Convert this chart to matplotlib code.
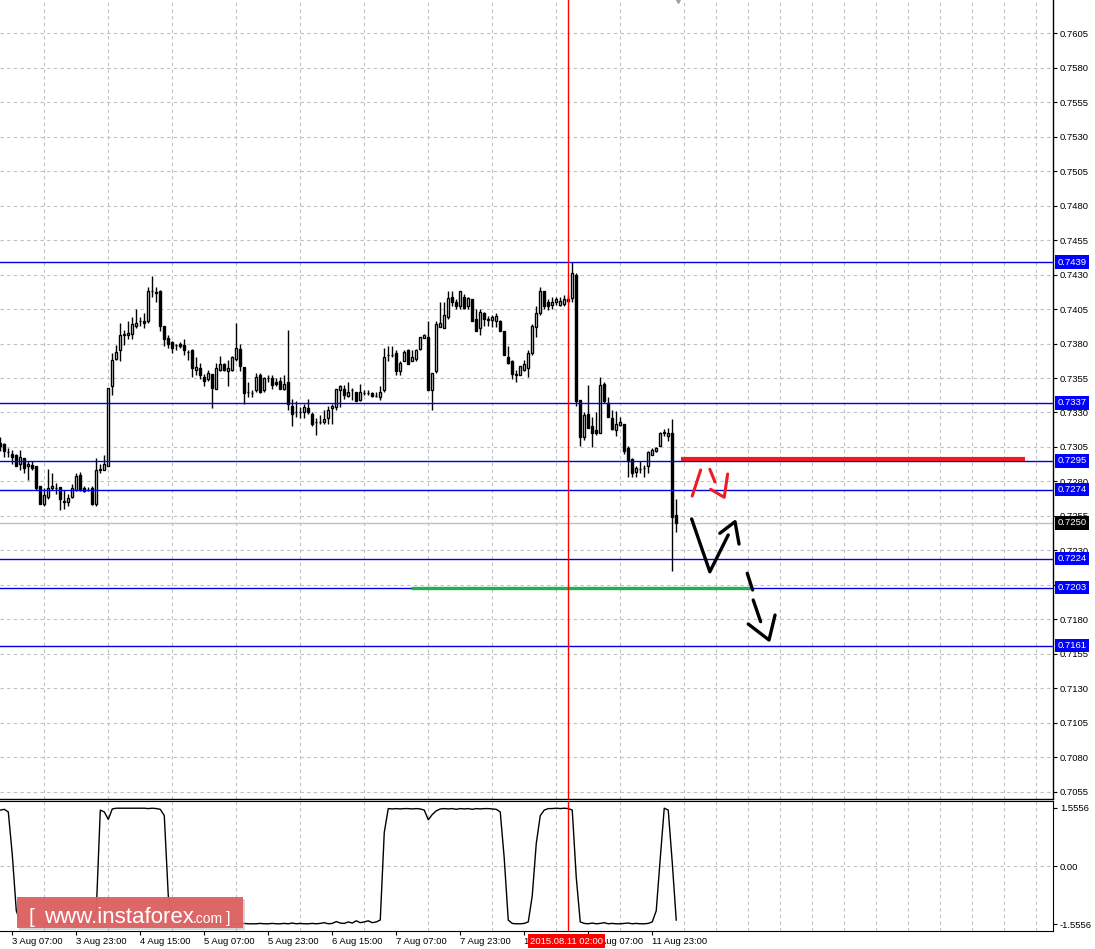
import matplotlib
matplotlib.use("Agg")
import matplotlib.pyplot as plt
from matplotlib.patches import Rectangle
import numpy as np

plt.rcParams['font.family'] = ['Liberation Sans', 'DejaVu Sans']

# ---------------- data ----------------
opens = [
.7308, .7307, .7301, .7300, .7299, .7293, .7297, .7291, .7292, .7291,
.7277, .7264, .7269, .7275, .7275, .7276, .7266, .7265, .7269, .7274,
.7285, .7275, .7274, .7275, .7264, .7288, .7288, .7291, .7349, .7369,
.7375, .7386, .7386, .7387, .7393, .7396, .7396, .7396, .7418, .7417,
.7418, .7393, .7384, .7381, .7379, .7380, .7379, .7374, .7375, .7361,
.7362, .7356, .7354, .7358, .7347, .7361, .7365, .7360, .7361, .7369,
.7376, .7363, .7345, .7344, .7346, .7357, .7346, .7355, .7355, .7352,
.7353, .7347, .7352, .7335, .7330, .7330, .7330, .7333, .7329, .7323,
.7323, .7323, .7326, .7333, .7334, .7346, .7347, .7342, .7346, .7345,
.7339, .7344, .7344, .7344, .7342, .7341, .7346, .7372, .7372, .7373,
.7360, .7367, .7375, .7367, .7369, .7376, .7384, .7385, .7346, .7360,
.7392, .7391, .7399, .7414, .7410, .7407, .7414, .7407, .7412, .7398,
.7391, .7402, .7398, .7397, .7396, .7396, .7389, .7370, .7367, .7358,
.7357, .7361, .7362, .7373, .7392, .7402, .7418, .7410, .7408, .7410,
.7408, .7409, .7412, .7413, .7430, .7339, .7312, .7329, .7320, .7317,
.7315, .7351, .7337, .7326, .7317, .7321, .7322, .7304, .7296, .7287,
.7289, .7290, .7291, .7299, .7302, .7306, .7315, .7313, .7315, .7256,
]
highs = [
.7312, .7308, .7304, .7303, .7300, .7303, .7297, .7295, .7295, .7291,
.7277, .7275, .7289, .7286, .7279, .7276, .7274, .7271, .7278, .7286,
.7287, .7277, .7276, .7277, .7297, .7293, .7299, .7348, .7373, .7379,
.7395, .7390, .7396, .7399, .7405, .7399, .7402, .7421, .7429, .7421,
.7419, .7393, .7386, .7382, .7380, .7381, .7383, .7375, .7376, .7370,
.7366, .7358, .7361, .7358, .7366, .7371, .7366, .7368, .7371, .7395,
.7380, .7363, .7352, .7346, .7359, .7359, .7356, .7357, .7357, .7355,
.7356, .7357, .7390, .7340, .7338, .7334, .7336, .7340, .7330, .7326,
.7328, .7332, .7335, .7336, .7347, .7350, .7350, .7352, .7348, .7345,
.7351, .7346, .7346, .7345, .7345, .7349, .7377, .7378, .7378, .7375,
.7367, .7375, .7376, .7375, .7376, .7385, .7387, .7396, .7359, .7396,
.7410, .7410, .7418, .7418, .7412, .7418, .7416, .7414, .7412, .7405,
.7405, .7403, .7400, .7401, .7402, .7397, .7389, .7378, .7368, .7361,
.7364, .7368, .7375, .7394, .7407, .7421, .7418, .7412, .7414, .7414,
.7414, .7415, .7415, .7439, .7431, .7339, .7330, .7350, .7327, .7330,
.7356, .7352, .7341, .7332, .7331, .7327, .7322, .7306, .7297, .7291,
.7295, .7292, .7302, .7304, .7305, .7316, .7318, .7319, .7325, .7267,
]
lows = [
.7302, .7298, .7298, .7293, .7291, .7288, .7286, .7281, .7288, .7274,
.7264, .7262, .7267, .7274, .7271, .7259, .7260, .7262, .7268, .7273,
.7273, .7272, .7273, .7263, .7262, .7286, .7288, .7291, .7343, .7368,
.7367, .7379, .7383, .7383, .7391, .7393, .7391, .7395, .7414, .7410,
.7389, .7378, .7377, .7373, .7375, .7377, .7372, .7368, .7356, .7357,
.7354, .7349, .7353, .7333, .7347, .7360, .7360, .7349, .7360, .7367,
.7360, .7336, .7341, .7341, .7345, .7344, .7345, .7352, .7347, .7349,
.7347, .7346, .7332, .7320, .7327, .7326, .7326, .7329, .7320, .7314,
.7322, .7322, .7322, .7322, .7332, .7334, .7340, .7341, .7339, .7338,
.7338, .7343, .7343, .7341, .7341, .7339, .7345, .7367, .7370, .7357,
.7357, .7367, .7365, .7367, .7367, .7375, .7384, .7346, .7332, .7359,
.7392, .7391, .7398, .7407, .7405, .7405, .7405, .7405, .7396, .7389,
.7386, .7393, .7393, .7392, .7392, .7389, .7372, .7365, .7354, .7352,
.7357, .7360, .7356, .7372, .7385, .7401, .7405, .7404, .7405, .7408,
.7407, .7407, .7410, .7410, .7335, .7306, .7310, .7319, .7305, .7314,
.7315, .7337, .7327, .7317, .7313, .7320, .7300, .7283, .7283, .7283,
.7286, .7283, .7286, .7299, .7301, .7306, .7313, .7309, .7215, .7243,
]
closes = [
.7306, .7302, .7301, .7298, .7291, .7298, .7290, .7293, .7290, .7275,
.7264, .7270, .7275, .7277, .7275, .7267, .7265, .7268, .7275, .7284,
.7274, .7273, .7274, .7264, .7288, .7289, .7293, .7348, .7368, .7374,
.7386, .7387, .7388, .7394, .7395, .7396, .7395, .7418, .7418, .7417,
.7393, .7383, .7380, .7377, .7379, .7378, .7375, .7374, .7362, .7363,
.7357, .7353, .7359, .7348, .7362, .7365, .7361, .7362, .7370, .7377,
.7364, .7344, .7345, .7344, .7356, .7345, .7355, .7355, .7350, .7351,
.7347, .7351, .7336, .7329, .7330, .7330, .7334, .7330, .7322, .7323,
.7323, .7325, .7332, .7335, .7347, .7349, .7343, .7345, .7346, .7338,
.7345, .7344, .7344, .7342, .7342, .7345, .7370, .7372, .7372, .7360,
.7366, .7374, .7365, .7370, .7375, .7385, .7386, .7346, .7359, .7394,
.7395, .7401, .7413, .7410, .7407, .7418, .7406, .7413, .7396, .7389,
.7403, .7398, .7397, .7399, .7400, .7389, .7372, .7366, .7358, .7357,
.7364, .7365, .7373, .7393, .7402, .7418, .7407, .7407, .7410, .7412,
.7411, .7412, .7411, .7431, .7338, .7312, .7328, .7319, .7315, .7315,
.7350, .7338, .7327, .7318, .7322, .7323, .7302, .7295, .7286, .7290,
.7289, .7290, .7301, .7303, .7304, .7315, .7316, .7315, .7254, .7250,
]
indicator = [
1.50, 1.52, 1.45, 0.30, -1.20, -1.50, -1.52, -1.53, -1.51, -1.53,
-1.52, -1.54, -1.53, -1.52, -1.53, -1.54, -1.52, -1.53, -1.54, -1.53,
-1.52, -1.53, -1.51, -1.45, -1.20, 1.50, 1.45, 1.25, 1.53, 1.55,
1.55, 1.55, 1.55, 1.55, 1.55, 1.55, 1.55, 1.54, 1.55, 1.54,
1.52, 1.35, -0.80, -1.50, -1.53, -1.54, -1.55, -1.54, -1.55, -1.54,
-1.55, -1.55, -1.54, -1.55, -1.55, -1.54, -1.55, -1.55, -1.54, -1.55,
-1.55, -1.54, -1.55, -1.55, -1.55, -1.54, -1.55, -1.55, -1.54, -1.55,
-1.55, -1.54, -1.55, -1.53, -1.55, -1.54, -1.55, -1.55, -1.54, -1.55,
-1.54, -1.52, -1.55, -1.54, -1.49, -1.53, -1.54, -1.50, -1.53, -1.47,
-1.52, -1.50, -1.47, -1.52, -1.50, -1.45, 0.90, 1.54, 1.53, 1.54,
1.53, 1.54, 1.54, 1.53, 1.54, 1.53, 1.50, 1.24, 1.38, 1.48,
1.53, 1.54, 1.53, 1.54, 1.52, 1.54, 1.53, 1.54, 1.52, 1.54,
1.53, 1.54, 1.54, 1.53, 1.52, 1.45, 0.20, -1.45, -1.54, -1.55,
-1.55, -1.54, -1.50, -0.80, 0.60, 1.35, 1.50, 1.54, 1.54, 1.55,
1.54, 1.55, 1.54, 1.50, -0.30, -1.50, -1.54, -1.55, -1.53, -1.55,
-1.54, -1.52, -1.55, -1.54, -1.55, -1.55, -1.54, -1.53, -1.55, -1.54,
-1.55, -1.55, -1.54, -1.50, -1.20, 0.20, 1.55, 1.50, 0.10, -1.45,
]

price_ticks = [round(0.7055 + 0.0025 * i, 4) for i in range(23)]
blue_levels = [0.7439, 0.7337, 0.7295, 0.7274, 0.7224, 0.7203, 0.7161]
last_price = 0.7250
tick_bars = [3, 19, 35, 51, 67, 83, 99, 115, 131, 147, 163]
tick_labels = ["3 Aug 07:00", "3 Aug 23:00", "4 Aug 15:00", "5 Aug 07:00",
               "5 Aug 23:00", "6 Aug 15:00", "7 Aug 07:00", "7 Aug 23:00",
               "10 Aug 15:00", "11 Aug 07:00", "11 Aug 23:00"]
marker_bar = 142
marker_label = "2015.08.11 02:00"
red_level = (170.2, 256.2, 0.72962)
green_level = (102.7, 187.4, 0.7203)
red_strokes = [
    ([173.0, 175.1], [0.72694, 0.72883]),
    ([177.4, 178.7], [0.72888, 0.72796]),
    ([177.6, 181.0, 181.85], [0.72743, 0.72685, 0.72854]),
]
black_strokes = [
    ([172.85, 177.4, 182.0], [0.72528, 0.72145, 0.72412]),
    ([179.9, 183.7, 184.7], [0.72424, 0.72508, 0.72346]),
    ([186.75, 188.1], [0.72134, 0.72013]),
    ([188.25, 190.1], [0.71940, 0.71783]),
    ([187.0, 192.2, 193.7], [0.71766, 0.71650, 0.71831]),
]
ind_ticks = [-1.5556, 0.0, 1.5556]
ind_tick_labels = ["-1.5556", "0.00", "1.5556"]

# ---------------- figure ----------------
W, H = 1095, 949
fig = plt.figure(figsize=(W / 100, H / 100), dpi=100)
fig.patch.set_facecolor('white')
ax = fig.add_axes([0, 1 - 799 / H, 1053 / W, 799 / H])
axi = fig.add_axes([0, 1 - 931 / H, 1053 / W, 130 / H], sharex=ax)

grid_kw = dict(color='#c0c0c0', lw=0.8, ls=(0, (3, 3)))
x = np.arange(len(opens))
o = np.array(opens); c = np.array(closes)
bull = c >= o
bottoms = np.minimum(o, c)
heights = np.maximum(np.abs(c - o), 0.000005)

ax.vlines(x, lows, highs, color='black', lw=1.0, zorder=3)
ax.bar(x, heights, bottom=bottoms, width=0.55,
       color=np.where(bull, 'white', 'black'), edgecolor='black',
       linewidth=1.0, zorder=4)

for lv in blue_levels:
    ax.axhline(lv, color='#0000e0', lw=1.0, zorder=5)
ax.axhline(last_price, color='#c0c0c0', lw=1.0, zorder=2)
ax.plot([green_level[0], green_level[1]], [green_level[2]] * 2,
        color='#22b14c', lw=2.4, zorder=6, solid_capstyle='butt')
ax.plot([red_level[0], red_level[1]], [red_level[2]] * 2,
        color='#ed1c24', lw=3.0, zorder=6, solid_capstyle='butt')
for xs, ys in red_strokes:
    ax.plot(xs, ys, color='#ed1c24', lw=2.2, zorder=7,
            solid_capstyle='round', solid_joinstyle='round')
for xs, ys in black_strokes:
    ax.plot(xs, ys, color='black', lw=2.4, zorder=7,
            solid_capstyle='round', solid_joinstyle='round')

ax.axvline(marker_bar, color='red', lw=1.0, zorder=8)
axi.axvline(marker_bar, color='red', lw=1.0, zorder=8)

ax.set_xlim(-0.075, 263.2)
ax.set_ylim(0.704970, 0.762915)
# small ask marker at the top edge
ax.plot([len(opens) - 0.5], [0.762915], marker='v', ms=4, color='#a0a0a0',
        clip_on=False, zorder=9, ls='none')
ax.yaxis.tick_right()
ax.set_yticks(price_ticks)
ax.set_yticklabels([f"{t:.4f}" for t in price_ticks])
ax.tick_params(axis='y', direction='out', length=3, width=0.8, pad=2,
               labelsize=6.8)
ax.tick_params(axis='x', which='both', bottom=False, labelbottom=False)
ax.grid(axis='y', which='major', **grid_kw, zorder=0)
ax.set_axisbelow(True)
for s in ['left', 'top']:
    ax.spines[s].set_visible(False)
ax.spines['right'].set_linewidth(1.0)
ax.spines['bottom'].set_linewidth(1.0)

# vertical grid every 8 bars
grid_bars = np.arange(3, 264, 8)
axi.set_xticks(grid_bars, minor=True)
axi.set_xticks(tick_bars)
axi.set_xticklabels(tick_labels)
ax.grid(axis='x', which='minor', **grid_kw, zorder=0)
axi.grid(axis='x', which='minor', **grid_kw, zorder=0)
axi.tick_params(axis='x', which='minor', length=0)
axi.tick_params(axis='x', which='major', direction='out', length=3,
                width=0.8, pad=1, labelsize=6.8)
for lbl in axi.get_xticklabels():
    lbl.set_ha('left')

axi.plot(x, indicator, color='black', lw=1.0, zorder=3)
axi.axhline(0, **grid_kw, zorder=0)
axi.set_ylim(-1.7433, 1.7433)
axi.yaxis.tick_right()
axi.set_yticks(ind_ticks)
axi.set_yticklabels(ind_tick_labels)
axi.tick_params(axis='y', direction='out', length=3, width=0.8, pad=2,
                labelsize=6.8)
axi.spines['left'].set_visible(False)
axi.set_axisbelow(True)

# level labels
ytr = ax.get_yaxis_transform()
for lv in blue_levels:
    ax.text(1.0045, lv, f"{lv:.4f}", transform=ytr, color='white',
            fontsize=6.8, va='center', ha='left', clip_on=False, zorder=10,
            bbox=dict(boxstyle='square,pad=0.24', fc='#0000ff', ec='none'))
ax.text(1.0045, last_price, f"{last_price:.4f}", transform=ytr, color='white',
        fontsize=6.8, va='center', ha='left', clip_on=False, zorder=10,
        bbox=dict(boxstyle='square,pad=0.24', fc='black', ec='none'))

# marker time label
fig.text(530 / W, 1 - 941 / H, marker_label, color='white', fontsize=6.8,
         va='center', ha='left', zorder=10,
         bbox=dict(boxstyle='square,pad=0.25', fc='#ff0000', ec='none'))

# logo
fig.add_artist(Rectangle((19 / W, 1 - 930 / H), 226 / W, 31 / H,
                         transform=fig.transFigure, facecolor='#b9b9b9',
                         edgecolor='none', alpha=0.6, zorder=5))
fig.add_artist(Rectangle((17 / W, 1 - 928 / H), 226 / W, 31 / H,
                         transform=fig.transFigure, facecolor='#de6161',
                         edgecolor='none', alpha=0.95, zorder=6))
base = 1 - 923 / H
fig.text(29 / W, base, "[", color='white', fontsize=15, va='baseline',
         ha='left', zorder=7)
fig.text(44 / W, base, "www.instaforex", color='white', fontsize=16,
         va='baseline', ha='left', zorder=7)
fig.text(193 / W, base, ".com", color='white', fontsize=10, va='baseline',
         ha='left', zorder=7)
fig.text(226 / W, base, "]", color='white', fontsize=12, va='baseline',
         ha='left', zorder=7)

fig.savefig("out.png", dpi=100)
